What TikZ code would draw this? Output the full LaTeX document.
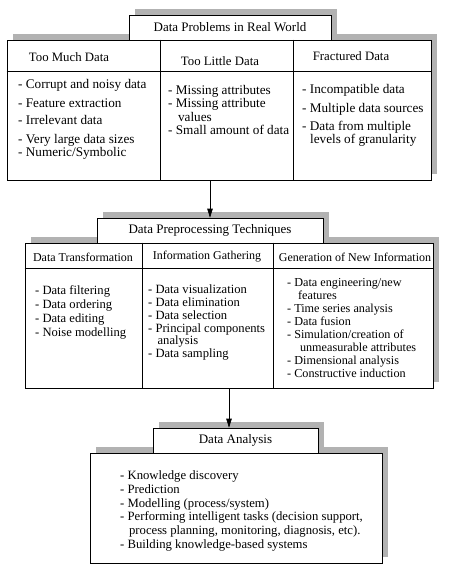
\documentclass[tikz,border=0pt]{standalone}
\usepackage{fontspec}
\setmainfont{Liberation Serif}
\usetikzlibrary{arrows.meta, positioning, shadows, calc}

\tikzset{
  shadowbox/.style={draw, fill=white, line width=0.6pt, inner sep=0pt,
    drop shadow={shadow xshift=6pt, shadow yshift=6pt, fill=gray!60, opacity=1}},
  itemtext/.style={font=\fontsize{13.2}{13.5}\selectfont, align=left, anchor=north west, inner sep=0pt},
  headtext/.style={font=\fontsize{13}{14}\selectfont, inner sep=0pt},
  smallhead/.style={font=\fontsize{12}{13}\selectfont, inner sep=0pt},
  flowarrow/.style={-{Triangle[length=9pt, width=5.5pt]}, line width=0.6pt}
}

\begin{document}
\begin{tikzpicture}[x=1pt, y=-1pt]
  \useasboundingbox (0,0) rectangle (465,572);

  % Data problems
  \node[shadowbox, minimum width=424pt, minimum height=140pt] (probs) at (219,110) {};
  \node[shadowbox, headtext, minimum width=202pt, minimum height=25pt] (probstitle) at (230,27.5) {Data Problems in Real World};
  \draw ($(probs.north west)+(0,32)$) -- ($(probs.north east)+(0,32)$);
  \draw ($(probs.north west)+(153,0)$) -- ($(probs.south west)+(153,0)$);
  \draw ($(probs.north west)+(286,0)$) -- ($(probs.south west)+(286,0)$);

  \node[headtext, font=\fontsize{12.8}{14}\selectfont] (much) at (69,57) {Too Much Data};
  \node[headtext, font=\fontsize{12.8}{14}\selectfont] (little) at (220,61) {Too Little Data};
  \node[headtext, font=\fontsize{12.8}{14}\selectfont] (fract) at (351,56) {Fractured Data};

  \node[itemtext] (muchlist) at (18,79) {- Corrupt and noisy data\\[5.5pt]
    - Feature extraction\\[3.5pt]
    - Irrelevant data\\[5.5pt]
    - Very large data sizes\\
    - Numeric/Symbolic};
  \node[itemtext] (littlelist) at (168,85) {- Missing attributes\\
    - Missing attribute\\
    \hspace{0.75em}values\\
    - Small amount of data};
  \node[itemtext] (fractlist) at (302,84) {- Incompatible data\\[5.5pt]
    - Multiple data sources\\[4.5pt]
    - Data from multiple\\
    \hspace{0.6em}levels of granularity};

  % Preprocessing techniques
  \node[shadowbox, minimum width=408pt, minimum height=145pt] (prep) at (229,315.5) {};
  \node[shadowbox, headtext, minimum width=226pt, minimum height=25pt] (preptitle) at (210,230.5) {Data Preprocessing Techniques};
  \draw ($(prep.north west)+(0,25)$) -- ($(prep.north east)+(0,25)$);
  \draw ($(prep.north west)+(117,0)$) -- ($(prep.south west)+(117,0)$);
  \draw ($(prep.north west)+(248,0)$) -- ($(prep.south west)+(248,0)$);

  \node[smallhead] (trans) at (83,257) {Data Transformation};
  \node[smallhead] (gather) at (207,257) {Information Gathering};
  \node[smallhead] (newinfo) at (355,257) {Generation of New Information};

  \node[itemtext, font=\fontsize{12.6}{14.3}\selectfont] (translist) at (35,285) {- Data filtering\\
    - Data ordering\\
    - Data editing\\
    - Noise modelling};
  \node[itemtext, font=\fontsize{12.6}{12.7}\selectfont] (gatherlist) at (148,285) {- Data visualization\\
    - Data elimination\\
    - Data selection\\
    - Principal components\\
    \hspace{0.75em}analysis\\
    - Data sampling};
  \node[itemtext, font=\fontsize{12.2}{13}\selectfont] (newinfolist) at (287,278) {- Data engineering/new\\
    \hspace{0.9em}features\\
    - Time series analysis\\
    - Data fusion\\
    - Simulation/creation of\\
    \hspace{1.05em}unmeasurable attributes\\
    - Dimensional analysis\\
    - Constructive induction};

  % Data analysis
  \node[shadowbox, minimum width=292pt, minimum height=110pt] (anal) at (236,508) {};
  \node[shadowbox, headtext, minimum width=165pt, minimum height=25pt] (analtitle) at (235.5,440.5) {Data Analysis};
  \node[itemtext, font=\fontsize{12.7}{13.8}\selectfont] (anallist) at (120,470.5) {- Knowledge discovery\\
    - Prediction\\
    - Modelling (process/system)\\
    - Performing intelligent tasks (decision support,\\
    \hspace{0.7em}process planning, monitoring, diagnosis, etc).\\
    - Building knowledge-based systems};

  % Arrows
  \draw[flowarrow] (probs.south -| preptitle.north) -- (preptitle.north);
  \draw[flowarrow] (prep.south) -- (prep.south |- analtitle.north);
\end{tikzpicture}
\end{document}
